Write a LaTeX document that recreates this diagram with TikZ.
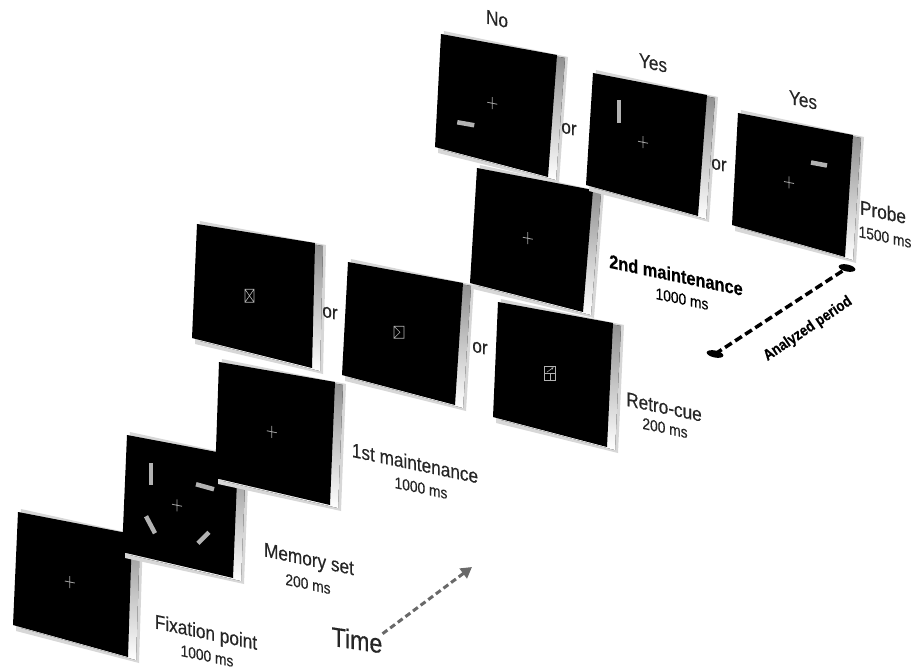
\documentclass[tikz,border=0pt]{standalone}
\usepackage{fontspec}
\setmainfont{Liberation Sans}[FakeStretch=0.86, FakeBold=0.4]
\usetikzlibrary{arrows.meta}

\begin{document}
\begin{tikzpicture}[x=1pt,y=-1pt]
  \useasboundingbox (0,0) rectangle (913,671);

  \definecolor{halo}{RGB}{215,215,215}
  \definecolor{shade}{RGB}{150,150,150}
  \definecolor{item}{RGB}{178,178,178}
  \definecolor{fixcross}{RGB}{160,160,160}
  \definecolor{caption}{RGB}{38,38,38}
  \definecolor{timeline}{RGB}{105,105,105}

  \tikzset{
    stage/.style={font=\fontsize{20}{21}\selectfont, text=caption, yslant=-0.21, inner sep=0pt},
    dur/.style={font=\fontsize{16}{17}\selectfont, text=caption, yslant=-0.21, inner sep=0pt},
    bar/.style={draw=item, line width=4.5pt},
    cue/.style={draw=item, line width=0.6pt},
    crossline/.style={draw=fixcross, line width=0.8pt}
  }

  % Draw the screens first, each one over the one before it

  \foreach \scr/\ax/\ay/\bx/\by/\cx/\cy/\dx/\dy in {
      fix/18/512/132/534/128/657/13/625,
      mem/127/435/238/456/233/578/122/552,
      mntA/219/362/335/382/330/505/215/478,
      cueA/197/224/315/243/312/368/192/338,
      cueB/348/262/463/283/455/405/342/375,
      cueC/498/302/613/323/607/447/493/417,
      mntB/477/168/593/190/583/312/470/283,
      prbA/441/34/557/55/548/177/435/147,
      prbB/593/73/707/95/698/216/586/185,
      prbC/738/113/853/135/845/257/732/225}{
    \fill[halo] (\ax+3,\ay-3) -- (\bx+11,\by+2) -- (\cx+11,\cy+6) -- (\dx+3,\dy+6) -- cycle;
    \fill[shade] (\ax+8,\ay+3) -- (\bx+8,\by+3) -- (\cx+8,\cy+3) -- (\dx+8,\dy+3) -- cycle;
    \fill[black] (\ax,\ay) -- (\bx,\by) -- (\cx,\cy) -- (\dx,\dy) -- cycle;
    \coordinate (\scr) at ({(\ax+\bx+\cx+\dx)/4-3},{(\ay+\by+\cy+\dy)/4});
  }

  % Then what is on them

  \foreach \scr in {fix, mem, mntA, mntB, prbA, prbB, prbC}{
    \draw[crossline, shift={(\scr)}] (-5,-1) -- (5,1) (0,-6) -- (0,6);
  }

  \draw[bar, line width=4pt, shift={(mem)}] (-26,-42) -- (-26,-20);
  \draw[bar, shift={(mem)}] (19,-21) -- (37,-16);
  \draw[bar, shift={(mem)}] (-31,11) -- (-22,28);
  \draw[bar, shift={(mem)}] (21,38) -- (32,27);

  \draw[bar, shift={(prbA)}] (-35,19) -- (-18,22);
  \draw[bar, line width=4pt, shift={(prbB)}] (-24,-42) -- (-24,-19);
  \draw[bar, shift={(prbC)}] (22,-20) -- (38,-17);

  \draw[cue, shift={(cueA)}] (-6,-4) rectangle (3,9) (-6,-4) -- (3,9) (3,-4) -- (-6,9);
  \draw[cue, shift={(cueB)}] (-5,-5) rectangle (5,7) (-5,-5) -- (1,1) -- (-5,7);
  \draw[cue, shift={(cueC)}] (-5,-6) rectangle (6,8) (-5,1) -- (6,1) (0.5,1) -- (0.5,8);
  \draw[cue, -{Stealth[length=3pt]}, shift={(cueC)}] (-3,0) -- (4,-5);

  % Labels

  \node[stage] (no)   at (497,19)  {No};
  \node[stage] (yesB) at (653,63)  {Yes};
  \node[stage] (yesC) at (803,100) {Yes};

  \node[stage] (orA) at (569,129) {or};
  \node[stage] (orB) at (719,165) {or};
  \node[stage] (orC) at (330,313) {or};
  \node[stage] (orD) at (480,348) {or};

  \node[stage] (probe)    at (883,212) {Probe};
  \node[dur]   (probeDur) at (885,237) {1500 ms};

  \node[stage, font=\bfseries\fontsize{19}{20}\selectfont, text=black] (mntBName) at (676,275) {2nd maintenance};
  \node[dur, text=black] (mntBDur) at (682,299) {1000 ms};

  \node[stage] (cueName) at (664,407) {Retro-cue};
  \node[dur]   (cueDur)  at (665,428) {200 ms};

  \node[stage] (mntAName) at (415,463) {1st maintenance};
  \node[dur]   (mntADur)  at (421,488) {1000 ms};

  \node[stage] (memName) at (309,561) {Memory set};
  \node[dur]   (memDur)  at (308,584) {200 ms};

  \node[stage] (fixName) at (206,634) {Fixation point};
  \node[dur]   (fixDur)  at (207,656) {1000 ms};

  % Time arrow

  \node[stage, font=\fontsize{27}{28}\selectfont, yslant=0.06] (time) at (357,640) {Time};
  \coordinate (timeTip) at (472,567);
  \draw[timeline, line width=3pt, dash pattern=on 6pt off 3.5pt,
        -{Triangle[length=11pt, width=12pt]}] (time.north east) -- (timeTip);

  % Analyzed period

  \coordinate (periodEnd) at (847,268);
  \coordinate (periodStart) at (715,354);
  \draw[black, line width=3.5pt, dash pattern=on 8pt off 4pt] (periodStart) -- (periodEnd);
  \fill[black, rotate around={-12:(periodEnd)}] (periodEnd) ellipse [x radius=8.5, y radius=3.5];
  \fill[black, rotate around={-12:(periodStart)}] (periodStart) ellipse [x radius=8.5, y radius=3.5];
  \node[font=\bfseries\fontsize{15.5}{16}\selectfont, rotate=34, inner sep=0pt] (period) at (808,329) {Analyzed period};
\end{tikzpicture}
\end{document}
